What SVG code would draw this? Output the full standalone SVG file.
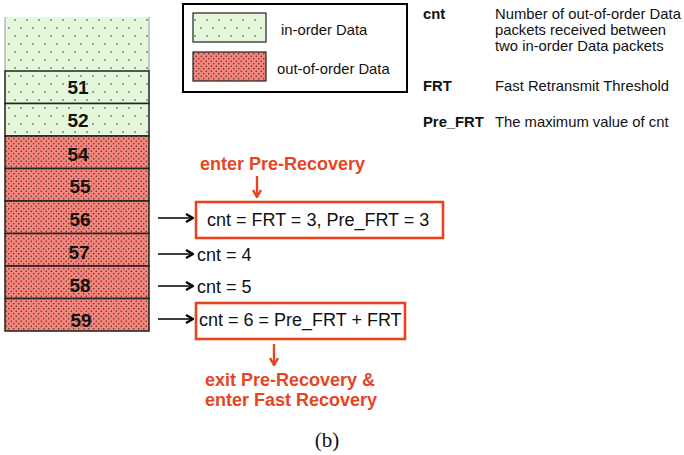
<svg xmlns="http://www.w3.org/2000/svg" width="684" height="455" viewBox="0 0 684 455">
<defs>
<pattern id="pg" width="12" height="16" patternUnits="userSpaceOnUse">
<rect width="12" height="16" fill="#e4f7da"/>
<circle cx="3" cy="4" r="0.8" fill="#333"/>
<circle cx="9" cy="12" r="0.8" fill="#333"/>
</pattern>
<pattern id="pr" width="5" height="5" patternUnits="userSpaceOnUse">
<rect width="5" height="5" fill="#f4857c"/>
<circle cx="1.25" cy="1.25" r="0.7" fill="#4a201c"/>
<circle cx="3.75" cy="3.75" r="0.7" fill="#4a201c"/>
</pattern>
<marker id="ak" viewBox="0 0 10 10" refX="9" refY="5" markerWidth="10" markerHeight="10" markerUnits="userSpaceOnUse" orient="auto">
<path d="M2,1 L9,5 L2,9" fill="none" stroke="#000" stroke-width="2.2"/>
</marker>
<marker id="ar" viewBox="0 0 10 10" refX="9" refY="5" markerWidth="10" markerHeight="10" markerUnits="userSpaceOnUse" orient="auto">
<path d="M2,1 L9,5 L2,9" fill="none" stroke="#e6451f" stroke-width="2.4"/>
</marker>
</defs>
<style>
.cell{stroke:#222;stroke-width:1.5}
.num{font-family:"Liberation Sans",Arial,sans-serif;font-weight:bold;font-size:19px;fill:#111;text-anchor:middle}
.t{font-family:"Liberation Sans",Arial,sans-serif;font-size:14.8px;fill:#111}
.tb{font-family:"Liberation Sans",Arial,sans-serif;font-size:14.8px;font-weight:bold;fill:#111}
.c{font-family:"Liberation Sans",Arial,sans-serif;font-size:18px;fill:#111}
.red{font-family:"Liberation Sans",Arial,sans-serif;font-size:18px;font-weight:bold;fill:#e6451f}
.rbox{fill:none;stroke:#e6451f;stroke-width:2.6}
.ka{stroke:#000;stroke-width:1.4;fill:none;marker-end:url(#ak)}
.ra{stroke:#e6451f;stroke-width:2.4;fill:none;marker-end:url(#ar)}
</style>

<g id="column">
<g id="top-block">
<rect x="5" y="17" width="144" height="54" fill="url(#pg)"/>
<line x1="5" y1="17" x2="5" y2="71" stroke="#999" stroke-width="1"/>
<line x1="149" y1="17" x2="149" y2="71" stroke="#999" stroke-width="1"/>
</g>
<g id="p51"><rect class="cell" x="5" y="71" width="144" height="32.5" fill="url(#pg)"/><text class="num" x="78" y="94">51</text></g>
<g id="p52"><rect class="cell" x="5" y="103.5" width="144" height="32.5" fill="url(#pg)"/><text class="num" x="78" y="127">52</text></g>
<g id="p54"><rect class="cell" x="5" y="136" width="144" height="32.5" fill="url(#pr)"/><text class="num" x="78" y="161">54</text></g>
<g id="p55"><rect class="cell" x="5" y="168.5" width="144" height="32.5" fill="url(#pr)"/><text class="num" x="80" y="193">55</text></g>
<g id="p56"><rect class="cell" x="5" y="201" width="144" height="32.5" fill="url(#pr)"/><text class="num" x="80" y="226">56</text></g>
<g id="p57"><rect class="cell" x="5" y="233.5" width="144" height="32.5" fill="url(#pr)"/><text class="num" x="79" y="259">57</text></g>
<g id="p58"><rect class="cell" x="5" y="266" width="144" height="32.5" fill="url(#pr)"/><text class="num" x="80" y="292">58</text></g>
<g id="p59"><rect class="cell" x="5" y="298.5" width="144" height="32.5" fill="url(#pr)"/><text class="num" x="81" y="327">59</text></g>
</g>

<g id="legend">
<rect x="183" y="4" width="224" height="88" fill="#fff" stroke="#000" stroke-width="2"/>
<rect x="193" y="13" width="73" height="29" fill="url(#pg)" stroke="#222" stroke-width="1.2"/>
<text class="t" x="281" y="35">in-order Data</text>
<rect x="193" y="52" width="73" height="29" fill="url(#pr)" stroke="#222" stroke-width="1.2"/>
<text class="t" x="277" y="74">out-of-order Data</text>
</g>

<g id="definitions">
<text class="tb" x="423" y="19">cnt</text>
<text class="t" x="495" y="19">Number of out-of-order Data</text>
<text class="t" x="495" y="35">packets received between</text>
<text class="t" x="495" y="51">two in-order Data packets</text>
<text class="tb" x="423" y="91">FRT</text>
<text class="t" x="495" y="91">Fast Retransmit Threshold</text>
<text class="tb" x="423" y="127">Pre_FRT</text>
<text class="t" x="495" y="127">The maximum value of cnt</text>
</g>

<g id="enter-label"><text class="red" x="200" y="170">enter Pre-Recovery</text></g>
<g id="box1">
<rect class="rbox" x="196" y="202" width="247" height="36"/>
<text class="c" x="207" y="226">cnt = FRT = 3, Pre_FRT = 3</text>
</g>
<g id="cnt4"><text class="c" x="197" y="261">cnt = 4</text></g>
<g id="cnt5"><text class="c" x="197" y="293">cnt = 5</text></g>
<g id="box2">
<rect class="rbox" x="196" y="303" width="209" height="36"/>
<text class="c" x="199" y="326">cnt = 6 = Pre_FRT + FRT</text>
</g>
<g id="exit-label">
<text class="red" x="205" y="386">exit Pre-Recovery &amp;</text>
<text class="red" x="205" y="406">enter Fast Recovery</text>
</g>

<g id="connectors">
<line class="ka" x1="158" y1="218" x2="193" y2="218"/>
<line class="ka" x1="158" y1="254" x2="193" y2="254"/>
<line class="ka" x1="158" y1="286" x2="193" y2="286"/>
<line class="ka" x1="158" y1="319" x2="193" y2="319"/>
<line class="ra" x1="257" y1="176" x2="257" y2="197"/>
<line class="ra" x1="274" y1="344" x2="274" y2="365"/>
</g>

<text x="327" y="447" font-family="'Liberation Serif','Times New Roman',serif" font-size="21" fill="#111" text-anchor="middle">(b)</text>
</svg>
